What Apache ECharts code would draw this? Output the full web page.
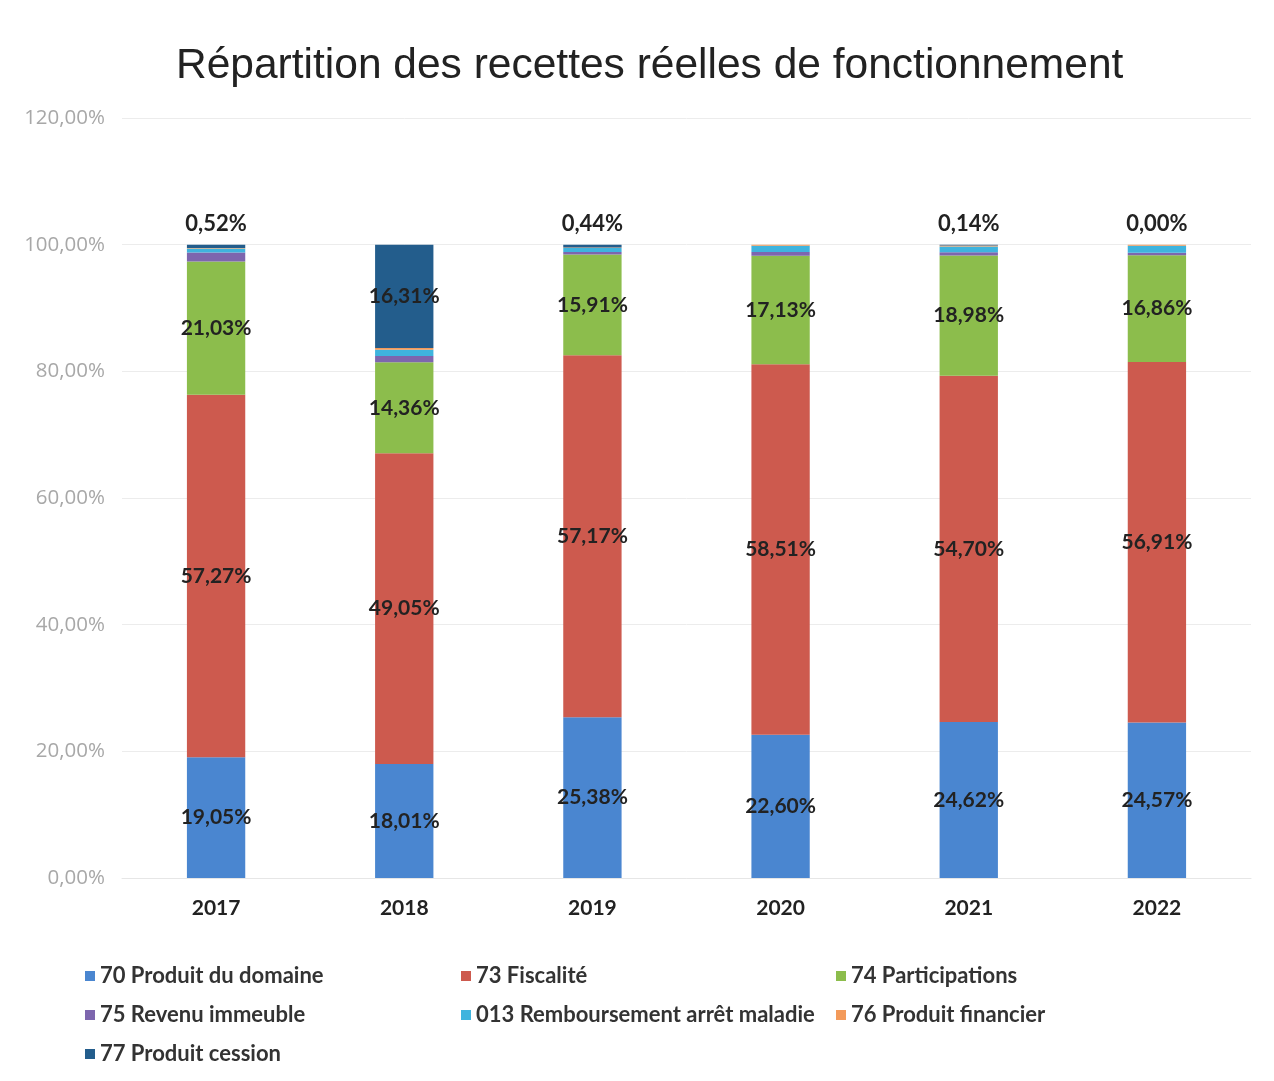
<!DOCTYPE html>
<html>
<head>
<meta charset="utf-8">
<script src="https://cdn.jsdelivr.net/npm/echarts@6/dist/echarts.min.js"></script>
<style>
  html, body { margin: 0; padding: 0; background: #fff; }
  #main { width: 1274px; height: 1081px; }
</style>
</head>
<body>
<div id="main"></div>
<script>
// années
const years = ['2017', '2018', '2019', '2020', '2021', '2022'];

// parts en % par chapitre
const produitDomaine = [19.05, 18.01, 25.38, 22.60, 24.62, 24.57];
const fiscalite = [57.27, 49.05, 57.17, 58.51, 54.70, 56.91];
const participations = [21.03, 14.36, 15.91, 17.13, 18.98, 16.86];
const revenuImmeuble = [1.40, 1.00, 0.40, 0.60, 0.50, 0.40];
const remboursement = [0.63, 0.98, 0.60, 1.00, 0.90, 1.10];
const produitFinancier = [0.10, 0.29, 0.10, 0.16, 0.16, 0.16];
const produitCession = [0.52, 16.31, 0.44, 0, 0.14, 0.00];

const yTicks = [0, 20, 40, 60, 80, 100, 120];

const pct = v => v.toFixed(2).replace('.', ',') + '%';
const font = 'Lato, "Noto Sans", sans-serif';

const insideLabel = {
  show: true,
  position: 'inside',
  fontFamily: font,
  fontWeight: 'bold',
  fontSize: 21,
  color: '#222',
  formatter: p => pct(p.value)
};

function seg(name, data, color, label) {
  return {
    name: name,
    type: 'bar',
    stack: 'total',
    barWidth: '31%',
    itemStyle: { color: color },
    label: label || { show: false },
    data: data
  };
}

// 77 : étiquette dedans pour 2018, au-dessus sinon, rien pour 2020
const cessionData = produitCession.map((v, i) => {
  if (i === 1) return { value: v, label: insideLabel };
  if (i === 3) return { value: v, label: { show: false } };
  return {
    value: v,
    label: {
      show: true, position: 'top', distance: 10,
      fontFamily: font, fontSize: 22, fontWeight: 'bold', color: '#222',
      formatter: p => pct(p.value)
    }
  };
});

const legendText = { fontFamily: font, fontSize: 22, fontWeight: 'bold', color: '#333' };

const myChart = echarts.init(document.getElementById('main'));

const option = {
  animation: false,
  title: {
    text: 'Répartition des recettes réelles de fonctionnement',
    left: 171,
    top: 40,
    textStyle: {
      fontFamily: 'Liberation Sans, Arial, sans-serif',
      fontWeight: 'normal',
      fontSize: 42.5,
      color: '#222'
    }
  },
  legend: [
    {
      data: ['70 Produit du domaine', '75 Revenu immeuble', '77 Produit cession'],
      orient: 'vertical', left: 80, top: 960, itemGap: 17,
      itemWidth: 10, itemHeight: 10, icon: 'rect',
      textStyle: legendText
    },
    {
      data: ['73 Fiscalité', '013 Remboursement arrêt maladie'],
      orient: 'vertical', left: 456, top: 960, itemGap: 17,
      itemWidth: 10, itemHeight: 10, icon: 'rect',
      textStyle: legendText
    },
    {
      data: ['74 Participations', '76 Produit financier'],
      orient: 'vertical', left: 831, top: 960, itemGap: 17,
      itemWidth: 10, itemHeight: 10, icon: 'rect',
      textStyle: legendText
    }
  ],
  grid: { left: 122, right: 23, top: 118, bottom: 203 },
  xAxis: {
    type: 'category',
    data: years,
    axisTick: { show: false },
    axisLine: { lineStyle: { color: '#e6e6e6' } },
    axisLabel: {
      margin: 20, fontFamily: font, fontSize: 21, fontWeight: 'bold', color: '#222'
    }
  },
  yAxis: {
    type: 'value',
    min: yTicks[0],
    max: yTicks[yTicks.length - 1],
    interval: 20,
    axisLine: { show: false },
    axisTick: { show: false },
    splitLine: { lineStyle: { color: '#ececec' } },
    axisLabel: {
      margin: 17,
      fontFamily: '"Open Sans", sans-serif',
      fontSize: 20.5,
      color: '#a8a8a8',
      formatter: v => pct(v)
    }
  },
  series: [
    seg('70 Produit du domaine', produitDomaine, '#4a86d0', insideLabel),
    seg('73 Fiscalité', fiscalite, '#cd5a4e', insideLabel),
    seg('74 Participations', participations, '#8cbd4c', insideLabel),
    seg('75 Revenu immeuble', revenuImmeuble, '#7d66ae'),
    seg('013 Remboursement arrêt maladie', remboursement, '#3fb4de'),
    seg('76 Produit financier', produitFinancier, '#f39a5a'),
    seg('77 Produit cession', cessionData, '#235d8c')
  ]
};

myChart.setOption(option);
window.onresize = function () {
  myChart.resize();
};
</script>
</body>
</html>
